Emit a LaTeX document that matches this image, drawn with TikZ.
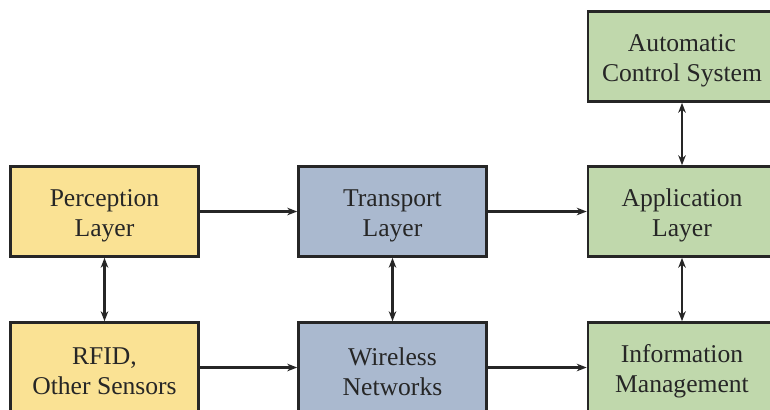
\documentclass[tikz,border=0pt]{standalone}
\usepackage{fontspec}
\setmainfont{Liberation Serif}
\usetikzlibrary{arrows.meta}
\definecolor{yel}{RGB}{250,226,148}
\definecolor{blu}{RGB}{170,185,207}
\definecolor{grn}{RGB}{192,216,172}
\tikzset{
  box/.style={draw=black!85, line width=1.3pt, minimum width=94pt, minimum height=45pt,
    inner sep=0pt},
  txt/.style={align=center, inner sep=0pt, yshift=-2pt,
    font=\fontsize{12.8pt}{15pt}\selectfont, text=black!85},
  conn/.style={line width=1.1pt, draw=black!85, -{Stealth[length=5pt,width=3.8pt]}},
  bconn/.style={line width=1.1pt, draw=black!85, {Stealth[length=5pt,width=3.8pt]}-{Stealth[length=5pt,width=3.8pt]}}
}
\begin{document}
\begin{tikzpicture}[x=0.5pt,y=-0.5pt]
\useasboundingbox (0,0) rectangle (770,409);
\clip (0,0) rectangle (770,409);
\fill[white] (0,0) rectangle (770,409);
\node[box, fill=yel, label={[txt]center:Perception\\Layer}] (per) at (104.5,211.5) {};
\node[box, fill=blu, label={[txt]center:Transport\\Layer}] (tra) at (392.5,211.5) {};
\node[box, fill=grn, label={[txt]center:Application\\Layer}] (app) at (682,211.5) {};
\node[box, fill=grn, label={[txt]center:Automatic\\Control System}] (aut) at (682,56.5) {};
\node[box, fill=yel, label={[txt]center:RFID,\\Other Sensors}] (rfid) at (104.5,367.5) {};
\node[box, fill=blu, label={[txt]center:Wireless\\Networks}] (wir) at (392.5,367.5) {};
\node[box, fill=grn, label={[txt]center:Information\\Management}] (inf) at (682,367.5) {};
\draw[conn] (per) -- (tra);
\draw[conn] (tra) -- (app);
\draw[conn] (rfid) -- (wir);
\draw[conn] (wir) -- (inf);
\draw[bconn] (per) -- (rfid);
\draw[bconn] (tra) -- (wir);
\draw[bconn] (app) -- (inf);
\draw[bconn] (app) -- (aut);
\end{tikzpicture}
\end{document}
